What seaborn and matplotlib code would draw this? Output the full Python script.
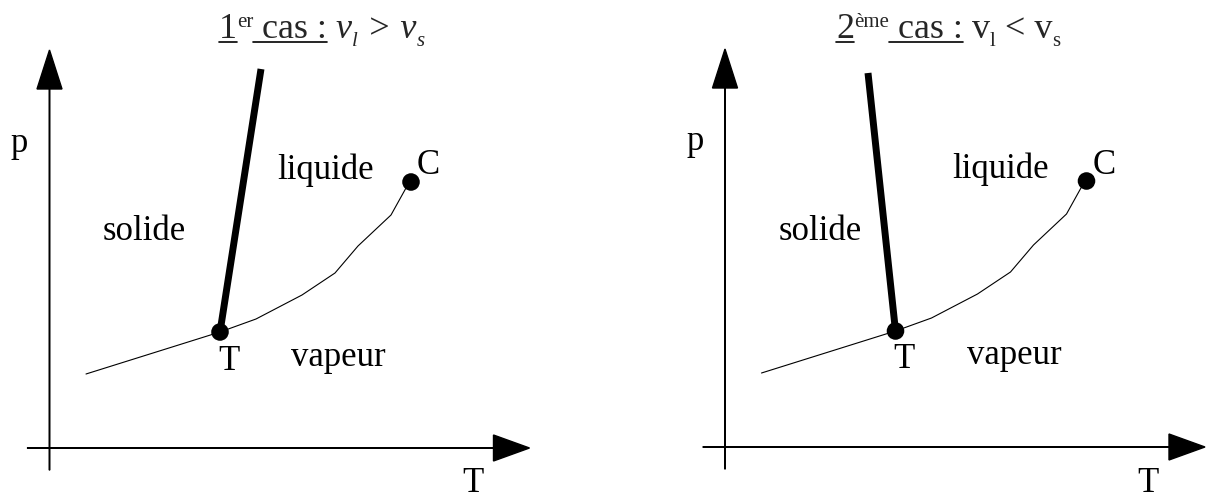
import matplotlib
matplotlib.use("Agg")
import matplotlib.pyplot as plt
from matplotlib.lines import Line2D
from matplotlib.transforms import IdentityTransform
import pandas as pd
import seaborn as sns

# vapour-pressure curve (T, p), from the far left end up to the critical point C
vap_T = [36.5, 170.5, 206.5, 252.5, 285.5, 308.5, 341.5, 356.5, 361.5]
vap_p = [74, 116, 129, 153, 175, 202, 233, 260, 266]

# melting curve: triple point -> top, one per case
melt_T_case1 = [170.5, 211.5]
melt_p_case1 = [116, 379]
melt_T_case2 = [170.5, 143]
melt_p_case2 = [116, 374]

# special points: triple point T and critical point C
pts_T = [170.5, 361.5]
pts_p = [116, 266]
pts_name = ["T", "C"]

sns.set_theme(style="white")
plt.rcParams["font.family"] = ["Liberation Serif", "DejaVu Serif"]

fig = plt.figure(figsize=(12.06, 5), dpi=100)
ax1 = fig.add_axes([0, 0, 0.5, 1])
ax2 = fig.add_axes([0.5, 0, 0.5, 1])


def draw_panel(ax, melt_T, melt_p, xlim, ylim):
    ax.set_xlim(*xlim)
    ax.set_ylim(*ylim)
    ax.set_axis_off()

    # axes with arrow heads (1 data unit = 1 pixel here)
    ax.arrow(0, -22, 0, 420, width=0.6, head_width=25, head_length=39,
             length_includes_head=True, color="black", zorder=1)
    ax.arrow(-22, 0, 502, 0, width=0.6, head_width=26, head_length=36,
             length_includes_head=True, color="black", zorder=1)

    vap = pd.DataFrame({"T": vap_T, "p": vap_p})
    sns.lineplot(data=vap, x="T", y="p", sort=False, estimator=None,
                 color="black", linewidth=0.8, ax=ax)
    melt = pd.DataFrame({"T": melt_T, "p": melt_p})
    sns.lineplot(data=melt, x="T", y="p", sort=False, estimator=None,
                 color="black", linewidth=5, solid_capstyle="butt", ax=ax)
    pts = pd.DataFrame({"T": pts_T, "p": pts_p, "name": pts_name})
    sns.scatterplot(data=pts, x="T", y="p", color="black", s=160,
                    edgecolor="none", zorder=5, ax=ax)
    ax.set_xlabel("")
    ax.set_ylabel("")

    kw = dict(fontsize=25, ha="center", va="center", color="black")
    ax.text(-30, 305, "p", **kw)
    ax.text(95, 216, "solide", **kw)
    ax.text(276, 278, "liquide", **kw)
    ax.text(379, 282, "C", **kw)
    ax.text(179, 87, "T", **kw)
    ax.text(289, 91, "vapeur", **kw)
    ax.text(423, -36, "T", **kw)


draw_panel(ax1, melt_T_case1, melt_p_case1, (-49.5, 553.5), (-52, 448))
draw_panel(ax2, melt_T_case2, melt_p_case2, (-122, 481), (-53, 447))

renderer = fig.canvas.get_renderer()


def rich_title(x, y, runs):
    # runs: (text, size, rise, underline, italic)
    for s, size, rise, under, italic in runs:
        t = fig.text(x, y + rise, s, fontsize=size, va="baseline", ha="left",
                     fontstyle="italic" if italic else "normal",
                     transform=IdentityTransform())
        bb = t.get_window_extent(renderer)
        if under:
            fig.add_artist(Line2D([bb.x0, bb.x1], [y - 4, y - 4], color="black",
                                  linewidth=1.2, transform=IdentityTransform()))
        x = bb.x1


rich_title(219, 462, [
    ("1", 26, 0, True, False),
    ("er", 15, 11, False, False),
    (" cas :", 26, 0, True, False),
    (" v", 26, 0, False, True),
    ("l", 15, -8, False, True),
    (" > v", 26, 0, False, True),
    ("s", 15, -8, False, True),
])
rich_title(836, 462, [
    ("2", 26, 0, True, False),
    ("ème", 15, 11, False, False),
    (" cas :", 26, 0, True, False),
    (" v", 26, 0, False, False),
    ("l", 15, -8, False, False),
    (" < v", 26, 0, False, False),
    ("s", 15, -8, False, False),
])

fig.savefig("out.png", dpi=100)
